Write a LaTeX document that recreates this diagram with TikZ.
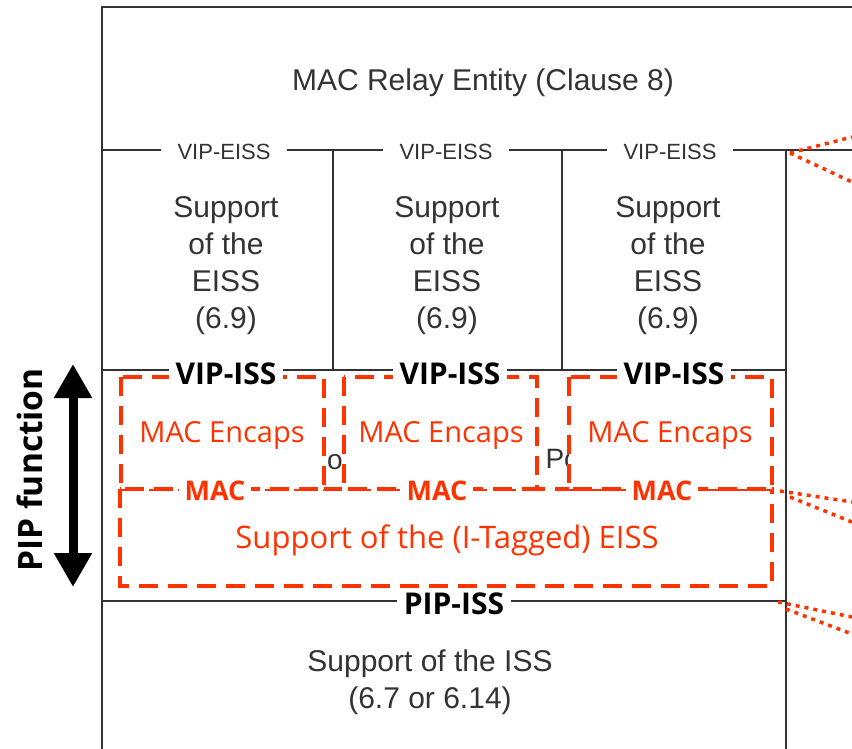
\documentclass[tikz,border=0pt]{standalone}
\usepackage{fontspec}
\setmainfont{Liberation Sans}
\newfontfamily\opensans{Open Sans}
\usetikzlibrary{arrows.meta}

\definecolor{pipred}{RGB}{255,51,0}
\definecolor{frame}{RGB}{50,50,50}

\tikzset{
  wall/.style={draw=frame, line width=2.2pt},
  layertext/.style={text=black!80, align=center, font=\fontsize{30}{37}\selectfont},
  eisslabel/.style={fill=white, text=black!80, inner xsep=17pt, inner ysep=1pt, font=\fontsize{22}{26}\selectfont},
  isslabel/.style={fill=white, text=black, inner xsep=7pt, inner ysep=0pt, font=\opensans\bfseries\fontsize{30}{34}\selectfont},
  maclabel/.style={fill=white, text=pipred, inner xsep=6pt, inner ysep=0pt, font=\opensans\bfseries\fontsize{27}{30}\selectfont},
  redtext/.style={text=pipred, font=\opensans\fontsize{29}{34}\selectfont},
  pipbox/.style={draw=pipred, line width=3.5pt, dash pattern=on 19pt off 10pt},
  encbox/.style={pipbox, fill=white},
  zoomline/.style={draw=pipred, line width=3.5pt, dash pattern=on 4pt off 5pt}
}

\begin{document}
\begin{tikzpicture}[x=1pt, y=-1pt]
\useasboundingbox (0,0) rectangle (852,749);

\coordinate (topL) at (102,7);
\coordinate (topR) at (852,7);
\coordinate (botL) at (102,749);
\coordinate (eissL) at (102,150);
\coordinate (eissR) at (852,150);
\coordinate (sideT) at (786,150);
\coordinate (sideB) at (786,749);
\coordinate (issL) at (102,370);
\coordinate (issR) at (786,370);
\coordinate (pipL) at (102,601);
\coordinate (pipR) at (786,601);
\coordinate (divAT) at (333,150);
\coordinate (divAB) at (333,370);
\coordinate (divBT) at (562,150);
\coordinate (divBB) at (562,370);

\draw[wall] (topR) -- (topL) -- (botL);
\draw[wall] (eissL) -- (eissR);
\draw[wall] (sideT) -- (sideB);
\draw[wall] (issL) -- (issR);
\draw[wall] (pipL) -- (pipR);
\draw[wall] (divAT) -- (divAB);
\draw[wall] (divBT) -- (divBB);

\node[text=black!80, font=\fontsize{28}{30}\selectfont] (hidA) at (335,462) {o};
\node[text=black!80, font=\fontsize{28}{30}\selectfont, anchor=west] (hidB) at (542,459) {Po};

\draw[pipbox] (120,489) rectangle (772,586);
\draw[encbox] (121,377) rectangle (324,489);
\draw[encbox] (344,377) rectangle (537,489);
\draw[encbox] (569,377) rectangle (772,489);

\node[layertext] (relay) at (483,83) {MAC Relay Entity (Clause 8)};

\node[eisslabel] (veissA) at (224,152) {VIP-EISS};
\node[eisslabel] (veissB) at (446,152) {VIP-EISS};
\node[eisslabel] (veissC) at (670,152) {VIP-EISS};

\node[layertext] (suppA) at (226,266) {Support\\of the\\EISS\\(6.9)};
\node[layertext] (suppB) at (447,266) {Support\\of the\\EISS\\(6.9)};
\node[layertext] (suppC) at (668,266) {Support\\of the\\EISS\\(6.9)};

\node[isslabel] (vissA) at (226,374) {VIP-ISS};
\node[isslabel] (vissB) at (450,374) {VIP-ISS};
\node[isslabel] (vissC) at (674,374) {VIP-ISS};

\node[redtext] (encA) at (222,435) {MAC Encaps};
\node[redtext] (encB) at (441,435) {MAC Encaps};
\node[redtext] (encC) at (670,435) {MAC Encaps};

\node[maclabel] (macA) at (215,491) {MAC};
\node[maclabel] (macB) at (437,491) {MAC};
\node[maclabel] (macC) at (662,491) {MAC};

\node[redtext, font=\opensans\fontsize{31}{36}\selectfont] (itag) at (447,540) {Support of the (I-Tagged) EISS};

\node[isslabel] (piss) at (454,604) {PIP-ISS};

\node[layertext] (iss) at (430,682) {Support of the ISS\\(6.7 or 6.14)};

\coordinate (zA) at (790,153);
\coordinate (zAup) at (852,137);
\coordinate (zAdn) at (852,182);
\coordinate (zB) at (780,491);
\coordinate (zB2) at (790,497);
\coordinate (zBup) at (852,502);
\coordinate (zBdn) at (852,522);
\coordinate (zC) at (778,602);
\coordinate (zC2) at (786,609);
\coordinate (zCup) at (852,617);
\coordinate (zCdn) at (852,634);

\draw[zoomline] (zA) -- (zAup);
\draw[zoomline] (zA) -- (zAdn);
\draw[zoomline] (zB) -- (zBup);
\draw[zoomline] (zB2) -- (zBdn);
\draw[zoomline] (zC) -- (zCup);
\draw[zoomline] (zC2) -- (zCdn);

\coordinate (pipTop) at (73,364);
\coordinate (pipBot) at (73,587);
\draw[line width=9pt, {Triangle[width=36pt,length=34pt]}-{Triangle[width=36pt,length=34pt]}] (pipTop) -- (pipBot);
\node[rotate=90, font=\opensans\bfseries\fontsize{33.5}{36}\selectfont] (pipfun) at (30,470) {PIP function};
\end{tikzpicture}
\end{document}
